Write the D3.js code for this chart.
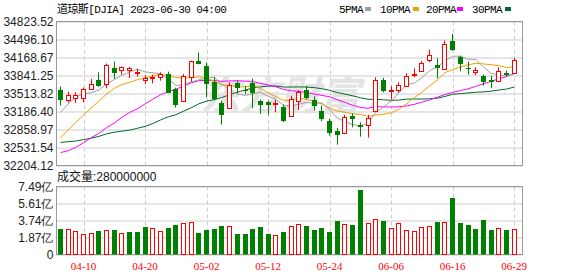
<!DOCTYPE html>
<html>
<head>
<meta charset="utf-8">
<script src="https://cdn.jsdelivr.net/npm/d3@7"></script>
<style>
  body { margin: 0; background: #fff; }
  svg { display: block; }
</style>
</head>
<body>
<div id="chart"></div>
<script>
// trading days shown on the chart
var dates = ["04-04","04-05","04-06","04-10","04-11","04-12","04-13","04-14","04-17","04-18","04-19","04-20","04-21","04-24","04-25","04-26","04-27","04-28",
  "05-01","05-02","05-03","05-04","05-05","05-08","05-09","05-10","05-11","05-12","05-15","05-16","05-17","05-18","05-19","05-22","05-23","05-24","05-25","05-26","05-30","05-31",
  "06-01","06-02","06-05","06-06","06-07","06-08","06-09","06-12","06-13","06-14","06-15","06-16","06-20","06-21","06-22","06-23","06-26","06-27","06-28","06-29"];

var opens = [33579,33397,33434,33434,33597,33761,33688,33979,33943,33949,33894,33761,33794,33821,33870,33597,33385,33809,
  34112,34021,33718,33343,33245,33712,33585,33712,33385,33366,33343,33276,33106,33385,33579,33397,33190,33021,32839,32797,33106,32943,
  32943,33190,33767,33557,33579,33657,33870,33918,34125,34039,33961,34476,34185,33979,33899,33839,33760,33748,33889,33881];
var highs = [33639,33548,33536,33621,33779,33899,34058,34094,34003,33998,33961,33845,33858,33899,33912,33621,33870,34112,
  34258,34076,33809,33385,33718,33748,33652,33785,33403,33385,33397,33312,33475,33579,33652,33463,33294,33057,32888,33125,33154,32990,
  33125,33809,33798,33645,33718,33881,33972,34103,34312,34154,34476,34598,34203,34094,33990,33858,33839,33990,33930,34161];
var lows = [33294,33348,33343,33354,33590,33639,33608,33779,33858,33798,33821,33688,33699,33748,33520,33257,33366,33730,
  34045,33445,33385,32948,33230,33517,33506,33245,33148,33125,33172,32994,33094,33215,33412,33203,33008,32748,32584,32784,32899,32730,
  32712,33185,33536,33403,33530,33627,33809,33912,34081,33790,33948,34294,33918,33858,33852,33658,33608,33730,33821,33870];
var closes = [33402,33482,33485,33587,33685,33647,34030,33886,33987,33977,33897,33787,33809,33876,33531,33302,33827,34098,
  34051,33684,33414,33128,33674,33619,33562,33531,33309,33301,33349,33012,33420,33535,33427,33286,33055,32800,32765,33093,33043,32908,
  33061,33762,33563,33573,33665,33834,33877,34066,34212,33979,34408,34299,34053,33952,33947,33727,33715,33927,33853,34122];
var volumes = [286e6,283e6,261e6,228e6,239e6,264e6,272e6,275e6,239e6,253e6,253e6,308e6,294e6,261e6,297e6,330e6,349e6,360e6,
  242e6,275e6,286e6,319e6,316e6,231e6,231e6,286e6,308e6,231e6,217e6,253e6,316e6,338e6,319e6,275e6,297e6,253e6,374e6,338e6,330e6,705e6,
  349e6,393e6,374e6,294e6,349e6,272e6,261e6,305e6,316e6,363e6,360e6,617e6,352e6,330e6,286e6,385e6,275e6,294e6,275e6,283e6];

// closes of the 29 sessions before 04-04, needed to start the moving averages
var priorCloses = [33045,33154,32817,32889,32657,32662,33004,33391,33431,32856,32799,32255,31910,31820,32155,31875,32247,31862,32245,32561,
  32030,32105,32238,32432,32394,32717,32859,33274,33601];

var priceTicks = [32204.12, 32531.54, 32858.97, 33186.40, 33513.82, 33841.25, 34168.67, 34496.10, 34823.52];
var volTicks = [0, 187250000, 374500000, 561750000, 749000000];
var dateTicks = ["04-10","04-20","05-02","05-12","05-24","06-06","06-16","06-29"];

var maSeries = [
  {name: "5PMA", n: 5, color: "#a0a0a0"},
  {name: "10PMA", n: 10, color: "#f0a000"},
  {name: "20PMA", n: 20, color: "#ff00ff"},
  {name: "30PMA", n: 30, color: "#006a2a"}
];

var svgWidth = 578;
var svgHeight = 276;
var up = "#ff0000", down = "#008000";

var svg = d3.select("#chart")
  .append("svg")
  .attr("width", svgWidth)
  .attr("height", svgHeight)
  .style("font-family", "'Liberation Sans', Arial, 'Noto Sans CJK SC', sans-serif");

var left = 56.5, right = 522.5;

var x = d3.scaleBand().domain(dates).range([56.6, 518]);
var y = d3.scaleLinear().domain([32204.12, 34823.52]).range([165.5, 21.5]);
var yVol = d3.scaleLinear().domain([0, 749000000]).range([254.5, 186.5]);

function cx(d) { return x(d) + x.bandwidth() / 2; }
function bodyX(d) { return Math.round(cx(d) - 2.5); }

// title + legend
svg.append("text")
  .attr("x", 57).attr("y", 13)
  .style("font-family", "'Liberation Mono', 'Noto Sans CJK SC', monospace")
  .style("font-size", "11px")
  .style("letter-spacing", "-0.6px")
  .text("道琼斯[DJIA] 2023-06-30 04:00");

var legendX = [339, 380, 426, 472];
var legendBox = [365, 413, 457, 505];
var legend = svg.append("g");
maSeries.forEach(function(s, i) {
  legend.append("text")
    .attr("x", legendX[i]).attr("y", 13)
    .style("font-family", "'Liberation Mono', monospace")
    .style("font-size", "11px")
    .style("letter-spacing", "-0.6px")
    .text(s.name);
  legend.append("rect")
    .attr("x", legendBox[i]).attr("y", 7)
    .attr("width", 6).attr("height", 4)
    .attr("fill", s.color);
});

// price panel grid
var priceAxis = d3.axisLeft(y)
  .tickValues(priceTicks)
  .tickSize(-(right - left))
  .tickPadding(3)
  .tickFormat(d3.format(".2f"));

var gPrice = svg.append("g")
  .attr("transform", `translate(${left}, 0)`)
  .call(priceAxis);
gPrice.select(".domain").remove();
gPrice.selectAll(".tick line").attr("stroke", "#cccccc");
gPrice.selectAll(".tick text").attr("fill", "#222").style("font-size", "12px");

// volume panel grid
var volAxis = d3.axisLeft(yVol)
  .tickValues(volTicks)
  .tickSize(-(right - left))
  .tickPadding(3)
  .tickFormat(function(d) {
    return d === 0 ? "0" : (Math.floor(d / 1e6) / 100).toFixed(2) + "亿";
  });

var gVol = svg.append("g")
  .attr("transform", `translate(${left}, 0)`)
  .call(volAxis);
gVol.select(".domain").remove();
gVol.selectAll(".tick line").attr("stroke", "#cccccc");
gVol.selectAll(".tick text").attr("fill", "#222").style("font-size", "12px");

// vertical dashed grid
[[21.5, 165.5], [186.5, 254.5]].forEach(function(r) {
  svg.append("g").selectAll("line")
    .data(dateTicks)
    .enter()
    .append("line")
    .attr("x1", d => Math.round(cx(d)) + 0.5)
    .attr("x2", d => Math.round(cx(d)) + 0.5)
    .attr("y1", r[0])
    .attr("y2", r[1])
    .attr("stroke", "#cccccc")
    .attr("stroke-dasharray", "4,3");
});

// watermark
svg.append("text")
  .attr("x", 280).attr("y", 110)
  .attr("text-anchor", "middle")
  .style("font-family", "'Noto Sans CJK SC', sans-serif")
  .style("font-size", "40px")
  .style("font-weight", "bold")
  .style("font-style", "italic")
  .attr("fill", "#e3e3e3")
  .text("东方财富");

// panel borders
svg.append("rect")
  .attr("x", left).attr("y", 21.5)
  .attr("width", right - left).attr("height", 144)
  .attr("fill", "none").attr("stroke", "#999");
svg.append("rect")
  .attr("x", left).attr("y", 186.5)
  .attr("width", right - left).attr("height", 68)
  .attr("fill", "none").attr("stroke", "#999");

// moving averages
var allCloses = priorCloses.concat(closes);
function movingAverage(n) {
  return closes.map(function(c, i) {
    var end = i + priorCloses.length + 1;
    return d3.mean(allCloses.slice(end - n, end));
  });
}

var candles = dates.map(function(d, i) {
  return {date: d, open: opens[i], high: highs[i], low: lows[i], close: closes[i], volume: volumes[i],
    prev: i === 0 ? priorCloses[priorCloses.length - 1] : closes[i - 1]};
});

var maLine = d3.line()
  .x((v, i) => cx(dates[i]))
  .y(v => y(v));

maSeries.slice().reverse().forEach(function(s) {
  svg.append("path")
    .datum(movingAverage(s.n))
    .attr("d", maLine)
    .attr("fill", "none")
    .attr("stroke", s.color)
    .attr("stroke-width", 1);
});

// candles
var candleGroup = svg.append("g");
candleGroup.selectAll("line")
  .data(candles)
  .enter()
  .append("line")
  .attr("x1", d => bodyX(d.date) + 2.5)
  .attr("x2", d => bodyX(d.date) + 2.5)
  .attr("y1", d => y(d.high))
  .attr("y2", d => y(d.low))
  .attr("stroke", d => d.close >= d.open ? up : down);

candleGroup.selectAll("rect")
  .data(candles)
  .enter()
  .append("rect")
  .attr("x", d => d.close >= d.open ? bodyX(d.date) + 0.5 : bodyX(d.date))
  .attr("y", d => d.close >= d.open ? Math.round(y(d.close)) + 0.5 : Math.round(y(d.open)))
  .attr("width", d => d.close >= d.open ? 4 : 5)
  .attr("height", function(d) {
    var h = Math.round(y(Math.min(d.open, d.close))) - Math.round(y(Math.max(d.open, d.close)));
    return Math.max(h, 1);
  })
  .attr("fill", d => d.close >= d.open ? "#fff" : down)
  .attr("stroke", d => d.close >= d.open ? up : "none");

// volume bars (colour by change from previous close)
svg.append("g").selectAll("rect")
  .data(candles)
  .enter()
  .append("rect")
  .attr("x", d => d.close >= d.prev ? bodyX(d.date) + 0.5 : bodyX(d.date))
  .attr("y", d => d.close >= d.prev ? Math.round(yVol(d.volume)) + 0.5 : Math.round(yVol(d.volume)))
  .attr("width", d => d.close >= d.prev ? 4 : 5)
  .attr("height", d => d.close >= d.prev ? 254 - Math.round(yVol(d.volume)) : 254.5 - Math.round(yVol(d.volume)))
  .attr("fill", d => d.close >= d.prev ? "#fff" : down)
  .attr("stroke", d => d.close >= d.prev ? up : "none");

// volume caption
svg.append("text")
  .attr("x", 57).attr("y", 181)
  .style("font-size", "12px")
  .attr("fill", "#111")
  .text("成交量:280000000");

// date axis
var dateAxis = d3.axisBottom(x)
  .tickValues(dateTicks)
  .tickSize(0)
  .tickPadding(7);

var gDate = svg.append("g")
  .attr("transform", "translate(0, 255)")
  .call(dateAxis);
gDate.select(".domain").remove();
gDate.selectAll(".tick text")
  .attr("fill", "#ff0000")
  .style("font-family", "'Liberation Serif', serif")
  .style("font-size", "11px");
</script>
</body>
</html>
